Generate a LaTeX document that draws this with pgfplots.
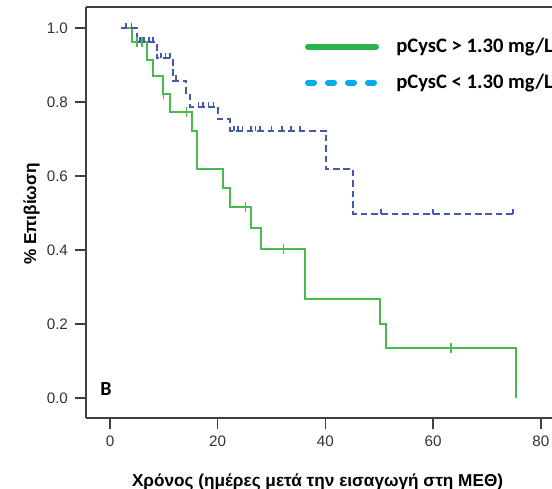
\documentclass[border=0pt]{standalone}
\usepackage{fontspec}
\setmainfont{Liberation Sans}
\newfontfamily\calibri{Carlito}
\usepackage{pgfplots}
\pgfplotsset{compat=1.18}
\definecolor{kmgreen}{RGB}{72,186,80}
\definecolor{kmblue}{RGB}{65,90,170}
\definecolor{leggreen}{RGB}{40,180,75}
\definecolor{legblue}{RGB}{0,170,235}
% censor mark of the dashed curve: a short tick pointing up
\pgfdeclareplotmark{utick}{%
  \pgfpathmoveto{\pgfpointorigin}%
  \pgfpathlineto{\pgfpoint{0pt}{\pgfplotmarksize}}%
  \pgfusepathqstroke}

\begin{document}
\begin{tikzpicture}
\begin{axis}[
    at={(43pt,35pt)}, anchor=south west,
    scale only axis, width=259pt, height=205.5pt,
    xmin=-4.457, xmax=91.74, ymin=-0.054, ymax=1.0568,
    axis x line*=box, axis y line*=left,
    xtick={0,20,40,60,80},
    ytick={0,0.2,0.4,0.6,0.8,1.0},
    /pgf/number format/assume math mode=true,
    yticklabel style={/pgf/number format/fixed,
        /pgf/number format/fixed zerofill,
        /pgf/number format/precision=1},
    ticklabel style={font=\fontsize{7.6}{9}\selectfont, text=black!80},
    axis line style={draw=black!75, line width=0.75pt},
    tick style={draw=black!75, line width=0.75pt},
    major tick length=5.5pt, tick align=outside, xtick pos=left, ytick pos=left,
    xlabel={Χρόνος (ημέρες μετά την εισαγωγή στη ΜΕΘ)},
    ylabel={\% Επιβίωση},
    label style={font=\bfseries\fontsize{8.6}{10}\selectfont},
    xlabel style={at={(axis description cs:0.447,-0.155)}, anchor=center},
    ylabel style={at={(axis description cs:-0.105,0.496)}, anchor=center},
    legend style={at={(axis description cs:0.422,0.93)}, anchor=north west,
        draw=none, fill=none, inner sep=0pt, row sep=7.5pt,
        font=\calibri\bfseries\fontsize{10.3}{12}\selectfont,
        nodes={inner xsep=4.2pt, inner ysep=0pt, text height=8pt, text depth=2.5pt}},
    legend cell align=left,
    legend image code/.code={\draw[#1] (0pt,0pt) -- (34pt,0pt); \path (38.5pt,0pt);},
]
% pCysC > 1.30 mg/L
\addplot[kmgreen, line width=1pt, const plot, forget plot] coordinates {
    (2,1) (4,0.961) (6.8,0.914) (8,0.869) (9.9,0.823) (11.1,0.774)
    (15.2,0.722) (16.1,0.619) (21,0.567) (22.2,0.516) (26.1,0.459)
    (28,0.403) (36.2,0.268) (50.1,0.201) (51.3,0.134) (75.4,0)
};
\addplot[kmgreen, line width=0.8pt, only marks, mark=|, mark size=2.5pt, forget plot] coordinates {
    (5,0.961) (5.9,0.961) (9.9,0.823) (14.2,0.774) (25.2,0.516)
    (32.2,0.403) (63.3,0.134)
};
% pCysC < 1.30 mg/L
\addplot[kmblue, line width=1pt, const plot, dash pattern=on 3.3pt off 1.9pt, forget plot] coordinates {
    (2,1) (5,0.962) (8.7,0.918) (11.7,0.858) (14.2,0.825) (14.9,0.787)
    (20.1,0.753) (22.2,0.722) (40.1,0.618) (45.2,0.496) (75.2,0.496)
};
\addplot[kmblue, line width=0.8pt, only marks, mark=utick, mark size=2.6pt, forget plot] coordinates {
    (3,1) (4,1) (5.6,0.962) (6.3,0.962) (7.2,0.962) (8,0.962)
    (9.5,0.918) (10.3,0.918) (11.1,0.918) (12.3,0.858)
    (16.4,0.787) (17.3,0.787) (18.3,0.787) (19.2,0.787)
    (23,0.722) (23.8,0.722) (24.6,0.722) (26.2,0.722) (27,0.722) (27.9,0.722)
    (30,0.722) (31.9,0.722) (33.6,0.722) (35.3,0.722)
    (50.3,0.496) (60,0.496) (74.8,0.496)
};
\addlegendimage{leggreen, line width=3pt, line cap=round}
\addlegendentry{pCysC > 1.30 mg/L}
\addlegendimage{legblue, line width=3pt, line cap=round, dash pattern=on 3pt off 7pt}
\addlegendentry{pCysC < 1.30 mg/L}
\node[font=\calibri\bfseries\fontsize{10}{12}\selectfont] at (axis cs:-0.74,0.024) {B};
\end{axis}
\pgfresetboundingbox
\useasboundingbox (0,0) rectangle (276pt,244pt);
\end{tikzpicture}
\end{document}
